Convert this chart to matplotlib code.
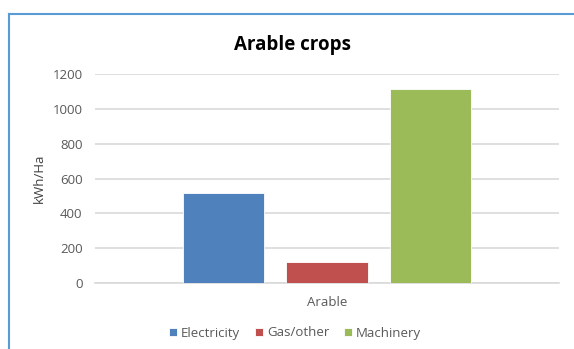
import numpy as np
import matplotlib.pyplot as plt
from matplotlib.lines import Line2D

plt.rcParams['font.family'] = ['Open Sans', 'DejaVu Sans']

# data
category = 'Arable'
series = ['Electricity', 'Gas/other', 'Machinery']
values = [515, 122, 1112]
colors = ['#4f81bd', '#c0504d', '#9bbb59']
yticks = [0, 200, 400, 600, 800, 1000, 1200]

W, H = 574, 349
fig = plt.figure(figsize=(W / 100, H / 100), dpi=100)
# plot area in pixels: x 95..559, y 74..283
ax = fig.add_axes([95 / W, 1 - 283 / H, (559 - 95) / W, (283 - 74) / H])

width = 0.1746
step = 0.222
for i, (name, v, c) in enumerate(zip(series, values, colors)):
    ax.bar((i - 1) * step, v, width=width, color=c, label=name,
           edgecolor='white', linewidth=0.6, zorder=3)

ax.set_xlim(-0.5, 0.5)
ax.set_ylim(0, 1200)
ax.set_yticks(yticks)
ax.set_xticks([0])
ax.set_xticklabels([category])
ax.grid(axis='y', color='#d9d9d9', linewidth=1.2, zorder=0)
for s in ['top', 'right', 'left']:
    ax.spines[s].set_visible(False)
ax.spines['bottom'].set_color('#d9d9d9')
ax.spines['bottom'].set_linewidth(1.2)
ax.tick_params(axis='both', length=0, colors='#595959', labelsize=9.5)
ax.tick_params(axis='y', pad=9)
ax.tick_params(axis='x', pad=9)
ax.set_ylabel('kWh/Ha', fontsize=9.5, color='#404040', labelpad=5)

fig.text(293 / W, 1 - 45 / H, 'Arable crops', ha='center', va='center',
         fontsize=13.5, fontweight='bold', color='black')

fig.legend(loc='center', bbox_to_anchor=(295 / W, 1 - 333 / H), ncol=3, frameon=False,
           fontsize=9.5, labelcolor='#595959', handlelength=0.6, handleheight=0.6,
           handletextpad=0.3, columnspacing=1.1)

# blue chart border (left and top)
fig.add_artist(Line2D([8.5 / W, 8.5 / W], [0, 1 - 14 / H], color='#5b9bd5', linewidth=1.5))
fig.add_artist(Line2D([8.5 / W, 1], [1 - 14 / H, 1 - 14 / H], color='#5b9bd5', linewidth=1.5))

fig.savefig('out.png', dpi=100)
